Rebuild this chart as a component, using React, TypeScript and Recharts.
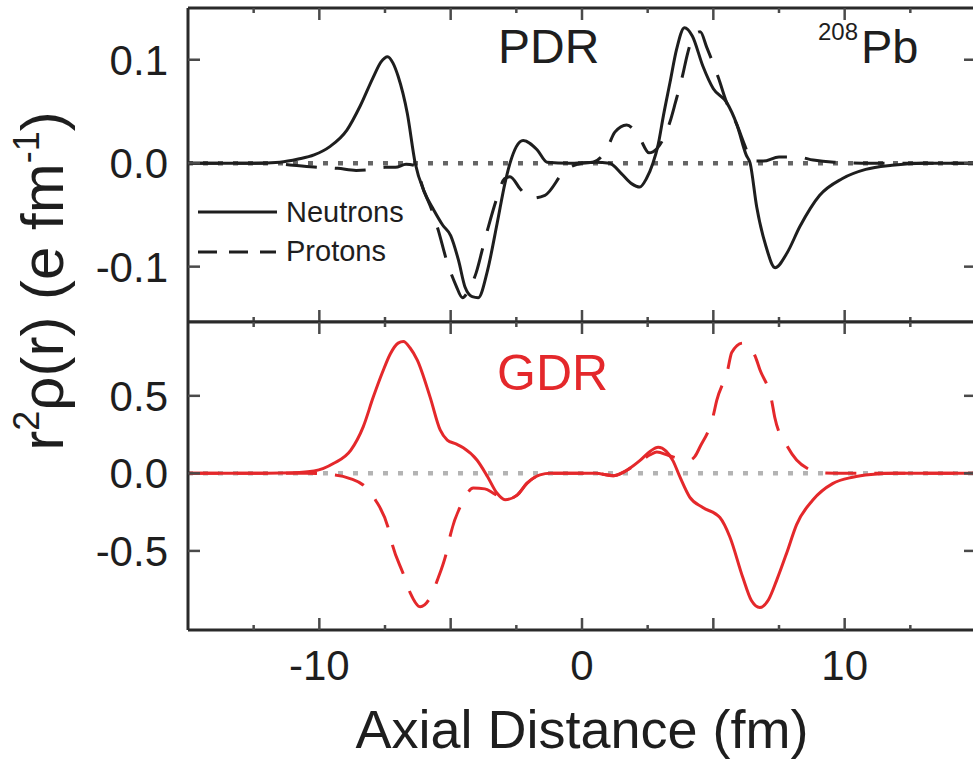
import React from "react";
import { LineChart, Line, XAxis, YAxis, ReferenceLine } from "recharts";

type Pt = [number, number];

// transition densities: [axial distance fm, r^2 rho(r)]
const PDR_NEUTRONS: Pt[] = [
  [-15, 0], [-12.5, 0], [-11.5, 0.001], [-10.8, 0.004], [-10.2, 0.008], [-9.6, 0.016],
  [-8.95, 0.032], [-8.45, 0.055], [-7.95, 0.083], [-7.65, 0.098], [-7.4, 0.103], [-7.2, 0.097],
  [-7.0, 0.084], [-6.65, 0.048], [-6.35, 0], [-6.0, -0.028], [-5.65, -0.045], [-5.3, -0.06],
  [-5.0, -0.07], [-4.7, -0.094], [-4.45, -0.12], [-4.18, -0.129], [-3.95, -0.13], [-3.6, -0.104],
  [-3.23, -0.058], [-2.93, -0.019], [-2.74, 0], [-2.5, 0.016], [-2.24, 0.022], [-1.71, 0.013],
  [-1.33, 0.001], [-0.5, 0], [0.5, 0.001], [1.05, 0], [1.5, -0.01], [1.9, -0.02], [2.2, -0.023],
  [2.45, -0.015], [2.7, 0], [2.9, 0.018], [3.1, 0.046], [3.35, 0.078], [3.6, 0.11], [3.9, 0.131],
  [4.2, 0.123], [4.6, 0.094], [5.0, 0.072], [5.5, 0.059], [5.9, 0.037], [6.25, 0.008], [6.4, 0],
  [6.65, -0.042], [7.0, -0.08], [7.35, -0.101], [7.8, -0.087], [8.3, -0.061], [9.05, -0.031],
  [9.9, -0.015], [10.8, -0.006], [11.8, -0.002], [13, 0], [15, 0],
];

const PDR_PROTONS: Pt[] = [
  [-15, 0], [-12, 0], [-11, -0.002], [-10, -0.004], [-9.3, -0.005], [-8.6, -0.007], [-8.0, -0.006],
  [-7.5, -0.004], [-7.1, -0.004], [-6.7, -0.001], [-6.4, -0.002], [-6.0, -0.028], [-5.65, -0.05],
  [-5.47, -0.065], [-5.13, -0.096], [-4.8, -0.118], [-4.55, -0.13], [-4.3, -0.122], [-4.03, -0.106],
  [-3.73, -0.077], [-3.57, -0.062], [-3.23, -0.033], [-2.95, -0.015], [-2.74, -0.013], [-2.35, -0.025],
  [-1.98, -0.034], [-1.41, -0.031], [-0.65, -0.007], [0, 0], [0.42, 0.001], [0.95, 0.014],
  [1.25, 0.03], [1.7, 0.037], [2.2, 0.024], [2.55, 0.01], [2.85, 0.014], [3.35, 0.04], [3.55, 0.058],
  [3.85, 0.087], [4.0, 0.104], [4.25, 0.123], [4.5, 0.127], [4.75, 0.112], [5.2, 0.082],
  [5.5, 0.059], [5.9, 0.037], [6.2, 0.017], [6.45, 0.002], [6.9, 0.002], [7.5, 0.006],
  [8.2, 0.006], [8.8, 0.003], [9.6, 0.001], [11, 0], [15, 0],
];

const GDR_NEUTRONS: Pt[] = [
  [-15, 0], [-12, 0.001], [-11, 0.004], [-10.2, 0.015], [-9.45, 0.065], [-8.8, 0.15], [-8.33, 0.3],
  [-7.95, 0.49], [-7.6, 0.65], [-7.3, 0.77], [-7.0, 0.84], [-6.8, 0.85], [-6.55, 0.81], [-6.27, 0.73],
  [-5.78, 0.49], [-5.4, 0.28], [-5.13, 0.215], [-4.8, 0.19], [-4.52, 0.165], [-4.0, 0.086],
  [-3.6, -0.02], [-3.24, -0.127], [-2.93, -0.17], [-2.47, -0.14], [-2.1, -0.065], [-1.6, -0.01],
  [-1.2, 0], [0.5, 0], [1.2, -0.015], [1.6, 0.01], [2.2, 0.082], [2.6, 0.143], [2.9, 0.168],
  [3.2, 0.143], [3.46, 0.082], [3.72, -0.02], [4.1, -0.153], [4.6, -0.22], [5.25, -0.285],
  [5.63, -0.41], [6.12, -0.67], [6.45, -0.82], [6.77, -0.865], [7.1, -0.815], [7.41, -0.69],
  [7.8, -0.51], [8.17, -0.33], [8.78, -0.173], [9.54, -0.066], [10.3, -0.025], [11, -0.008],
  [12, 0], [15, 0],
];

const GDR_PROTONS: Pt[] = [
  [-15, 0], [-10.5, 0], [-9.4, -0.01], [-8.8, -0.035], [-8.33, -0.075], [-7.87, -0.17], [-7.38, -0.35],
  [-7.22, -0.46], [-6.8, -0.65], [-6.54, -0.77], [-6.16, -0.86], [-5.78, -0.8], [-5.51, -0.69],
  [-5.13, -0.49], [-5.0, -0.39], [-4.56, -0.19], [-4.14, -0.095], [-3.7, -0.1], [-3.38, -0.127],
  [-2.93, -0.17], [-2.47, -0.14], [-2.1, -0.065], [-1.6, -0.01], [-1.2, 0], [0.5, 0], [1.2, -0.015],
  [1.6, 0.01], [2.2, 0.075], [2.6, 0.12], [2.85, 0.137], [3.3, 0.115], [3.7, 0.095], [4.1, 0.086],
  [4.3, 0.11], [4.49, 0.17], [4.98, 0.36], [5.13, 0.47], [5.55, 0.67], [5.7, 0.78], [6.12, 0.84],
  [6.58, 0.76], [6.77, 0.67], [7.22, 0.47], [7.34, 0.36], [7.83, 0.17], [8.17, 0.086], [8.6, 0.03],
  [9.05, 0.005], [10, 0], [15, 0],
];

const X_DOMAIN = [-15, 15];
const X_TICKS = [-12.5, -10, -7.5, -5, -2.5, 0, 2.5, 5, 7.5, 10, 12.5];
const X_TICK_LABELS = [-10, 0, 10];
const PDR_DOMAIN = [-0.1535, 0.15];
const PDR_Y_TICKS = [-0.1, 0, 0.1];
const GDR_DOMAIN = [-1.01, 0.976];
const GDR_Y_TICKS = [-0.5, 0, 0.5];

const FONT = "'Liberation Sans', Arial, Helvetica, sans-serif";
const INK = "#1e1e1e";
const FRAME = "#2a2a2a";
const TICK = "#4a4a4a";
const RED = "#e4282b";

// chart is a bit wider than the window: the source crop cuts off the right frame
const CHART_W = 990;
const PLOT_L = 188;
const PLOT_R = 976;

const rows = (pts: Pt[]) => pts.map(([x, v]) => ({ x, v }));

// draws the inward tick on the bottom edge and its twin on the top edge
function xTick(plotH: number, withLabel: boolean) {
  return (props: any) => {
    const { x, y, payload } = props;
    const v = payload.value as number;
    const len = v % 5 === 0 ? 12 : 5;
    const top = y - plotH;
    return (
      <g>
        <line x1={x} x2={x} y1={y} y2={y - len} stroke={TICK} strokeWidth={2.5} />
        <line x1={x} x2={x} y1={top} y2={top + len} stroke={TICK} strokeWidth={2.5} />
        {withLabel && X_TICK_LABELS.includes(v) && (
          <text x={x} y={y + 50} textAnchor="middle" fontSize={42} fontFamily={FONT} fill={INK}>
            {String(v)}
          </text>
        )}
      </g>
    );
  };
}

function yTick(dir: number, withLabel: boolean) {
  return (props: any) => {
    const { x, y, payload } = props;
    const v = payload.value as number;
    const txt = (v < 0 ? "-" : "") + Math.abs(v).toFixed(1);
    return (
      <g>
        <line x1={x} x2={x + dir * 12} y1={y} y2={y} stroke={TICK} strokeWidth={2.5} />
        {withLabel && (
          <text x={x - 20} y={y + 15} textAnchor="end" fontSize={42} fontFamily={FONT} fill={INK}>
            {txt}
          </text>
        )}
      </g>
    );
  };
}

interface PanelProps {
  height: number;
  marginTop: number;
  plotH: number;
  bottomAxisH: number;
  domain: number[];
  yTicks: number[];
  neutrons: Pt[];
  protons: Pt[];
  color: string;
  zeroColor: string;
  xLabels: boolean;
}

function Panel(p: PanelProps) {
  const axisLine = { stroke: FRAME, strokeWidth: 3 };
  return (
    <LineChart
      width={CHART_W}
      height={p.height}
      margin={{ top: p.marginTop, right: 0, bottom: 0, left: 0 }}
    >
      <XAxis
        xAxisId="xb"
        orientation="bottom"
        type="number"
        dataKey="x"
        domain={X_DOMAIN}
        ticks={X_TICKS}
        interval={0}
        height={p.bottomAxisH}
        tickSize={0}
        tickMargin={0}
        tickLine={false}
        axisLine={axisLine}
        tick={xTick(p.plotH, p.xLabels)}
        allowDataOverflow
        label={
          p.xLabels
            ? {
                value: "Axial Distance (fm)",
                position: "insideBottom",
                offset: 22,
                fontSize: 54,
                fontFamily: FONT,
                fill: INK,
              }
            : undefined
        }
      />
      <YAxis
        yAxisId="yl"
        orientation="left"
        type="number"
        width={PLOT_L}
        domain={p.domain}
        ticks={p.yTicks}
        interval={0}
        tickSize={0}
        tickMargin={0}
        tickLine={false}
        axisLine={axisLine}
        tick={yTick(1, true)}
        allowDataOverflow
      />
      <YAxis
        yAxisId="yr"
        orientation="right"
        type="number"
        width={CHART_W - PLOT_R}
        domain={p.domain}
        ticks={p.yTicks}
        interval={0}
        tickSize={0}
        tickMargin={0}
        tickLine={false}
        axisLine={axisLine}
        tick={yTick(-1, false)}
        allowDataOverflow
      />
      {/* top edge of the frame */}
      <ReferenceLine
        xAxisId="xb"
        yAxisId="yl"
        y={p.domain[1]}
        stroke={FRAME}
        strokeWidth={3}
        ifOverflow="visible"
      />
      <ReferenceLine
        xAxisId="xb"
        yAxisId="yl"
        y={0}
        stroke={p.zeroColor}
        strokeWidth={4.5}
        strokeDasharray="5 10"
      />
      <Line
        xAxisId="xb"
        yAxisId="yl"
        data={rows(p.neutrons)}
        dataKey="v"
        type="monotone"
        stroke={p.color}
        strokeWidth={3}
        dot={false}
        isAnimationActive={false}
      />
      <Line
        xAxisId="xb"
        yAxisId="yl"
        data={rows(p.protons)}
        dataKey="v"
        type="monotone"
        stroke={p.color}
        strokeWidth={3}
        strokeDasharray="31 18"
        dot={false}
        isAnimationActive={false}
      />
    </LineChart>
  );
}

export default function App() {
  return (
    <div
      style={{
        position: "absolute",
        left: 0,
        top: 0,
        width: 973,
        height: 770,
        overflow: "hidden",
        background: "#fff",
      }}
    >
      {/* PDR panel: plot spans y 8..322 */}
      <div style={{ position: "absolute", left: 0, top: 0 }}>
        <Panel
          height={323}
          marginTop={8}
          plotH={314}
          bottomAxisH={1}
          domain={PDR_DOMAIN}
          yTicks={PDR_Y_TICKS}
          neutrons={PDR_NEUTRONS}
          protons={PDR_PROTONS}
          color={INK}
          zeroColor="#666"
          xLabels={false}
        />
      </div>
      {/* GDR panel: plot spans y 322..630 */}
      <div style={{ position: "absolute", left: 0, top: 312 }}>
        <Panel
          height={458}
          marginTop={10}
          plotH={308}
          bottomAxisH={140}
          domain={GDR_DOMAIN}
          yTicks={GDR_Y_TICKS}
          neutrons={GDR_NEUTRONS}
          protons={GDR_PROTONS}
          color={RED}
          zeroColor="#b4b4b4"
          xLabels={true}
        />
      </div>
      <svg
        width={973}
        height={770}
        style={{ position: "absolute", left: 0, top: 0, pointerEvents: "none" }}
        fontFamily={FONT}
      >
        <text x={498} y={63} fontSize={48} fill={INK}>PDR</text>
        <text x={818} y={40} fontSize={24} fill={INK}>208</text>
        <text x={861} y={63} fontSize={47} fill={INK}>Pb</text>
        <text x={497} y={390} fontSize={50} fill={RED}>GDR</text>

        <line x1={198} x2={277} y1={212} y2={212} stroke={INK} strokeWidth={3} />
        <text x={286} y={222} fontSize={29} fill={INK}>Neutrons</text>
        <line x1={198} x2={276} y1={252} y2={252} stroke={INK} strokeWidth={3} strokeDasharray="19 12" />
        <text x={286} y={261} fontSize={29} fill={INK}>Protons</text>

        <text transform="translate(63, 281) rotate(-90)" textAnchor="middle" fontSize={60} fill={INK}>
          r<tspan dy={-24} fontSize={36}>2</tspan>
          <tspan dy={24}>ρ(r) (e fm</tspan>
          <tspan dy={-24} fontSize={36}>-1</tspan>
          <tspan dy={24}>)</tspan>
        </text>
      </svg>
    </div>
  );
}
